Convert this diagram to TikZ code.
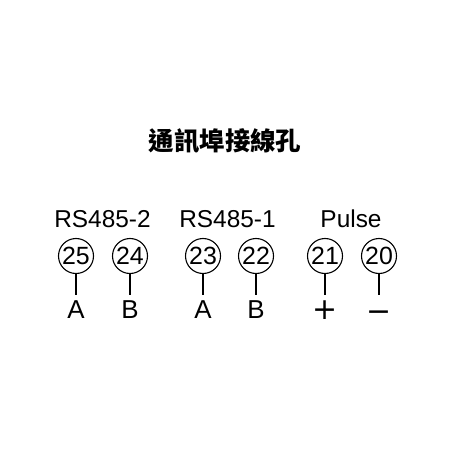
\documentclass[tikz,border=0pt]{standalone}
\usepackage{fontspec}
\setmainfont{Liberation Sans}
\newfontfamily\cjk{Noto Sans CJK TC}
\newfontfamily\djv{DejaVu Sans}
\begin{document}
\begin{tikzpicture}[x=1bp,y=-1bp,
  term/.style={circle,draw,line width=1.1bp,minimum size=35bp,inner sep=0pt,font=\fontsize{25}{25}\selectfont},
  grp/.style={font=\fontsize{24.5}{24.5}\selectfont,anchor=base},
  pin/.style={font=\fontsize{26}{26}\selectfont,anchor=base},
  sgn/.style={font=\djv\fontsize{30}{30}\selectfont,anchor=base},
  lead/.style={line width=1.1bp}]
\useasboundingbox (0,0) rectangle (450,450);
\node[font=\cjk\bfseries\fontsize{25.5}{25.5}\selectfont] (title) at (225,141) {通訊埠接線孔};
\node[grp] (g2) at (102.5,227) {RS485-2};
\node[grp] (g1) at (227.5,227) {RS485-1};
\node[grp] (gp) at (351,227) {Pulse};
\foreach \n/\x in {25/76,24/130,23/203,22/256,21/325,20/379}{
  \node[term] (t\n) at (\x,256) {\n};
  \coordinate (e\n) at (\x,295);
  \draw[lead] (t\n.south) -- (e\n);
}
\node[pin] (p25) at (76,318.5) {A};
\node[pin] (p24) at (130,318.5) {B};
\node[pin] (p23) at (203,318.5) {A};
\node[pin] (p22) at (256,318.5) {B};
\node[sgn] (p21) at (325,319.5) {+};
\node[sgn] (p20) at (379,321.5) {−};
\end{tikzpicture}
\end{document}
